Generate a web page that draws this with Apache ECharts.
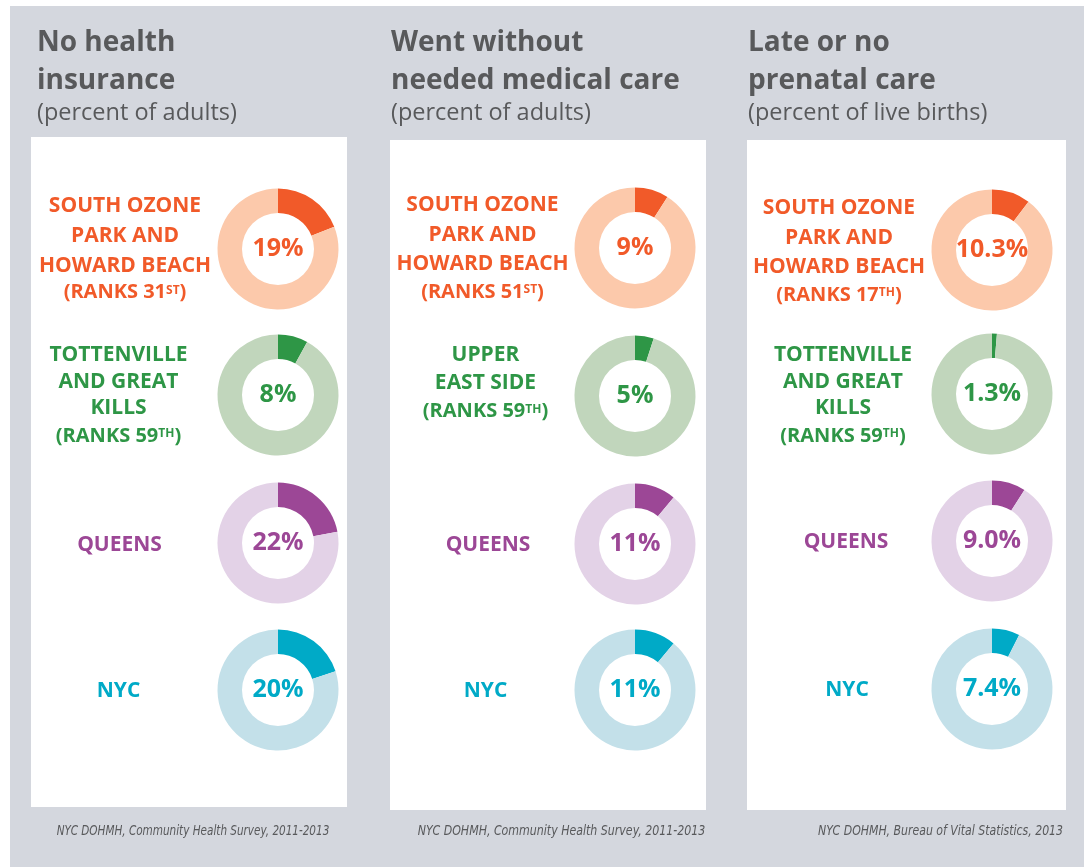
<!DOCTYPE html>
<html><head><meta charset="utf-8">
<script src="https://cdn.jsdelivr.net/npm/echarts@6/dist/echarts.min.js"></script>
<style>html,body{margin:0;padding:0;background:#fff}#c{width:1084px;height:867px}</style>
</head><body><div id="c"></div>
<script>
// ---------- DATA ----------
const metricTitles = [["No health", "insurance"], ["Went without", "needed medical care"], ["Late or no", "prenatal care"]];
const metricSubtitles = ["(percent of adults)", "(percent of adults)", "(percent of live births)"];
const metricSources = ["NYC DOHMH, Community Health Survey, 2011-2013", "NYC DOHMH, Community Health Survey, 2011-2013", "NYC DOHMH, Bureau of Vital Statistics, 2013"];
const noInsurance = [19, 8, 22, 20];
const wentWithoutCare = [9, 5, 11, 11];
const latePrenatalCare = [10.3, 1.3, 9.0, 7.4];
const valueDecimals = [0, 0, 1];
const areaNames = [
  [["SOUTH OZONE", "PARK AND", "HOWARD BEACH"], ["TOTTENVILLE", "AND GREAT", "KILLS"], ["QUEENS"], ["NYC"]],
  [["SOUTH OZONE", "PARK AND", "HOWARD BEACH"], ["UPPER", "EAST SIDE"], ["QUEENS"], ["NYC"]],
  [["SOUTH OZONE", "PARK AND", "HOWARD BEACH"], ["TOTTENVILLE", "AND GREAT", "KILLS"], ["QUEENS"], ["NYC"]]
];
const areaRanks = [
  [["31", "ST"], ["59", "TH"], null, null],
  [["51", "ST"], ["59", "TH"], null, null],
  [["17", "TH"], ["59", "TH"], null, null]
];
// ---------- STYLE / LAYOUT ----------
const darkColors = ["#f15a29", "#2e9646", "#9c4796", "#00aac7"];
const lightColors = ["#fcc9ab", "#c1d6bc", "#e3d2e7", "#c3e0e9"];
const panelRects = [[31, 137, 316, 670], [390, 140, 316, 670], [747, 140, 319, 670]];
const titleX = [37, 391, 748];
const donutX = [278, 635, 992];
const donutY = [[249, 395, 543, 690], [248, 396, 544, 690], [250, 394, 541, 689]];
const labelX = [[125, 118.5, 119.5, 118.5], [482.5, 485.5, 488, 485.5], [839, 843, 846, 847]];
const labelY0 = [[205.5, 354, 544.5, 690.5], [204.5, 354.5, 544, 690], [207.5, 354, 541.5, 689]];
const labelGap = [[30, 26.7, 0, 0], [29.5, 27.5, 0, 0], [29.5, 26.7, 0, 0]];
const rankY = [[290.5, 434], [290, 409.5], [293, 434]];
const sourceX = [193, 561.5, 940.5];
const sourceScale = [0.86, 0.907, 0.90];
const FONT = "'Open Sans', 'Noto Sans', sans-serif";
const NARROW = "'Liberation Sans Narrow', 'DejaVu Sans Condensed', sans-serif";
const TITLE_COLOR = "#58595b";

const metricValues = [noInsurance, wentWithoutCare, latePrenatalCare];
const graphics = [];
graphics.push({type: 'rect', shape: {x: 10, y: 6, width: 1080, height: 861}, style: {fill: '#d4d7de'}, silent: true});
panelRects.forEach(r => graphics.push({type: 'rect', shape: {x: r[0], y: r[1], width: r[2], height: r[3]}, style: {fill: '#ffffff'}, silent: true}));

metricTitles.forEach((lines, p) => {
  lines.forEach((t, i) => graphics.push({type: 'text', x: titleX[p], y: 43 + i * 38.5, silent: true,
    style: {text: t, fill: TITLE_COLOR, font: "bold 28px " + FONT, align: 'left', verticalAlign: 'middle'}}));
  graphics.push({type: 'text', x: titleX[p], y: 113, silent: true,
    style: {text: metricSubtitles[p], fill: TITLE_COLOR, font: "23.5px " + FONT, align: 'left', verticalAlign: 'middle'}});
  graphics.push({type: 'text', x: sourceX[p], y: 831, scaleX: sourceScale[p], silent: true,
    style: {text: metricSources[p], fill: TITLE_COLOR, font: "italic 13.5px " + NARROW, align: 'center', verticalAlign: 'middle'}});
  areaNames[p].forEach((nameLines, r) => {
    const rk = areaRanks[p][r];
    nameLines.forEach((t, i) => graphics.push({type: 'text', x: labelX[p][r], y: labelY0[p][r] + i * labelGap[p][r] + 1, silent: true,
      style: {text: t, fill: darkColors[r], font: "bold 21px " + FONT, align: 'center', verticalAlign: 'middle'}}));
    if (rk) {
      graphics.push({type: 'text', x: labelX[p][r], y: rankY[p][r] + 1, silent: true,
        style: {text: '{m|(RANKS ' + rk[0] + '}{s|' + rk[1] + '}{m|)}', align: 'center', verticalAlign: 'middle',
          rich: {m: {fontFamily: FONT, fontWeight: 'bold', fontSize: 20, fill: darkColors[r], lineHeight: 22, verticalAlign: 'bottom'},
                 s: {fontFamily: FONT, fontWeight: 'bold', fontSize: 12, fill: darkColors[r], lineHeight: 22, verticalAlign: 'top', padding: [4, 0, 0, 0]}}}});
    }
  });
});

const series = [];
metricValues.forEach((vals, p) => {
  vals.forEach((v, r) => {
    series.push({
      type: 'pie', silent: true, animation: false,
      center: [donutX[p], donutY[p][r]], radius: [36, 60.5],
      startAngle: 90, clockwise: true, avoidLabelOverlap: false,
      emphasis: {disabled: true},
      labelLine: {show: false},
      label: {show: false},
      data: [
        {value: v, itemStyle: {color: darkColors[r]},
          label: {show: true, position: 'center', formatter: v.toFixed(valueDecimals[p]) + '%',
            fontFamily: FONT, fontWeight: 'bold', fontSize: 25, color: darkColors[r], padding: [0, 0, 5, 0]}},
        {value: 100 - v, itemStyle: {color: lightColors[r]}}
      ]
    });
  });
});

const chart = echarts.init(document.getElementById('c'), null, {renderer: 'canvas'});
chart.setOption({animation: false, graphic: graphics, series: series});
</script></body></html>
